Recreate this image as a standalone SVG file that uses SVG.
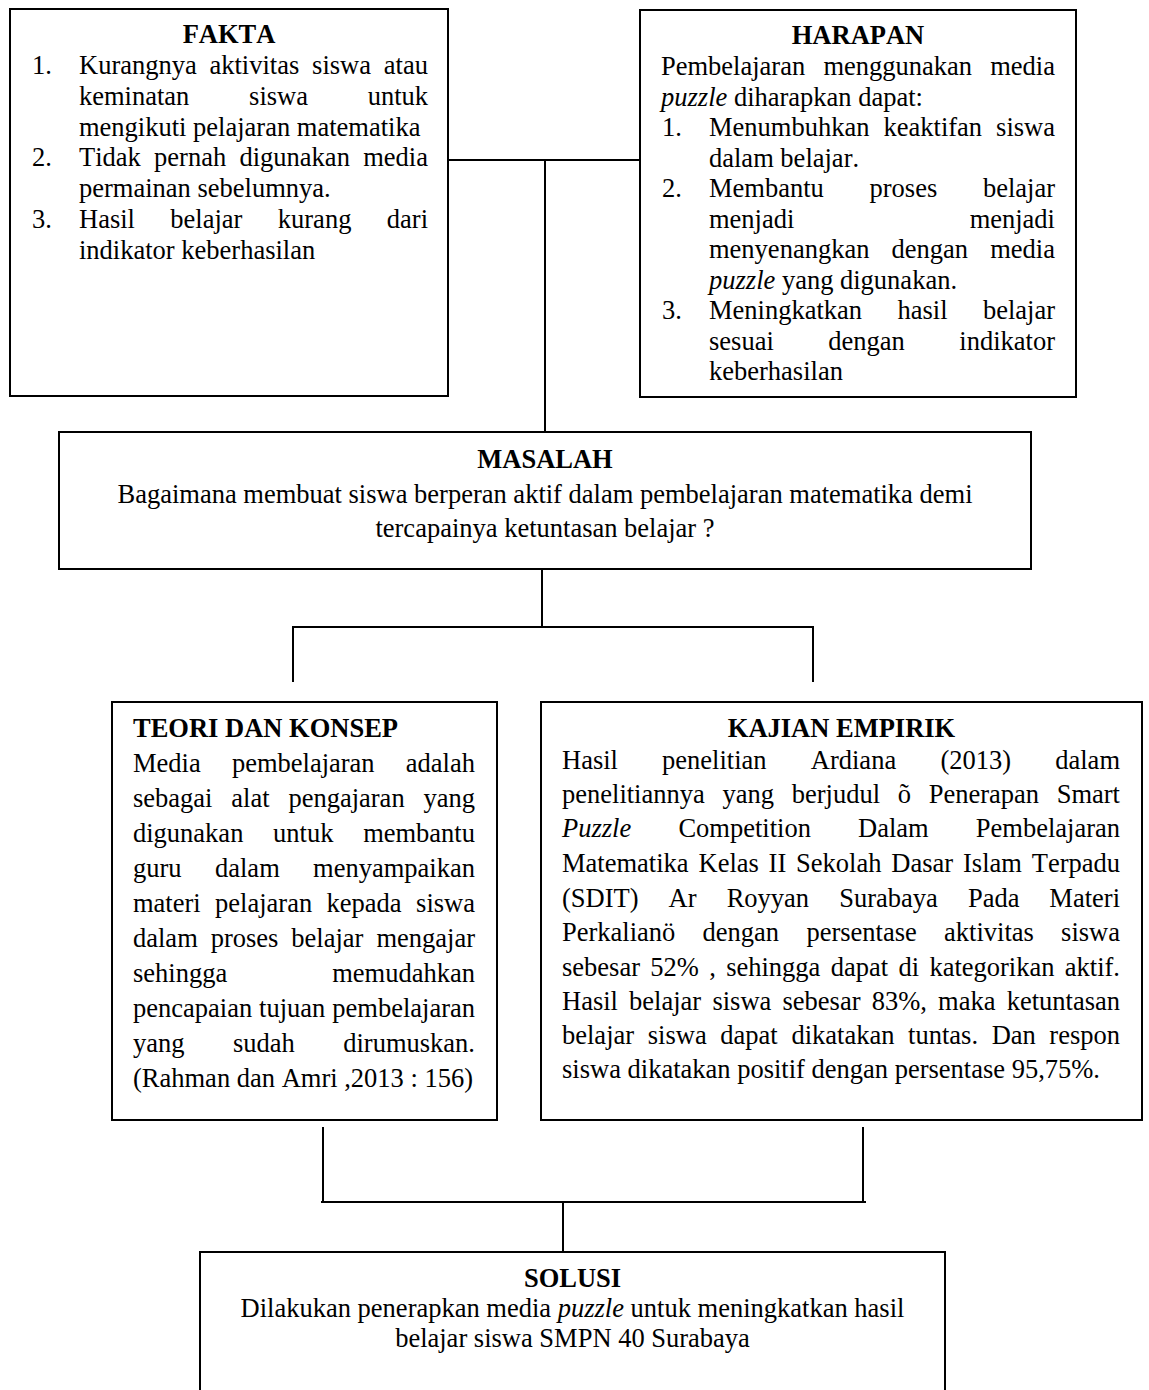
<svg xmlns="http://www.w3.org/2000/svg" width="1149" height="1390" viewBox="0 0 1149 1390">
<style>
.t{font-family:"Liberation Serif","Times New Roman",serif;font-size:26.5px;fill:#000;font-kerning:none}
.b{font-weight:bold}
.c{text-anchor:middle}
.r{text-anchor:end}
.i{font-style:italic}
.box{fill:#fff;stroke:#000;stroke-width:2}
.ln{stroke:#000;stroke-width:2;fill:none}
</style>
<rect width="1149" height="1390" fill="#fff"/>
<g id="connectors">
<line class="ln" x1="448" y1="160" x2="640" y2="160"/>
<line class="ln" x1="545" y1="160" x2="545" y2="432"/>
<line class="ln" x1="542" y1="569" x2="542" y2="627"/>
<line class="ln" x1="292" y1="627" x2="814" y2="627"/>
<line class="ln" x1="293" y1="627" x2="293" y2="682"/>
<line class="ln" x1="813" y1="627" x2="813" y2="682"/>
<line class="ln" x1="323" y1="1127" x2="323" y2="1202"/>
<line class="ln" x1="863" y1="1127" x2="863" y2="1202"/>
<line class="ln" x1="321" y1="1202" x2="866" y2="1202"/>
<line class="ln" x1="563" y1="1202" x2="563" y2="1252"/>
</g>
<g id="fakta">
<rect class="box" x="10" y="9" width="438" height="387"/>
<text class="t b c" x="229" y="43">FAKTA</text>
<text class="t" y="74"><tspan x="32">1.</tspan><tspan x="79">Kurangnya</tspan><tspan x="209.5">aktivitas</tspan><tspan x="312.1">siswa</tspan><tspan x="428" class="r">atau</tspan></text>
<text class="t" y="104.8"><tspan x="79">keminatan</tspan><tspan x="249.1">siswa</tspan><tspan x="428" class="r">untuk</tspan></text>
<text class="t" x="79" y="135.6">mengikuti pelajaran matematika</text>
<text class="t" y="166.4"><tspan x="32">2.</tspan><tspan x="79">Tidak</tspan><tspan x="154.1">pernah</tspan><tspan x="239.5">digunakan</tspan><tspan x="428" class="r">media</tspan></text>
<text class="t" x="79" y="197.2">permainan sebelumnya.</text>
<text class="t" y="228"><tspan x="32">3.</tspan><tspan x="79">Hasil</tspan><tspan x="170.3">belajar</tspan><tspan x="277.8">kurang</tspan><tspan x="428" class="r">dari</tspan></text>
<text class="t" x="79" y="258.8">indikator keberhasilan</text>
</g>
<g id="harapan">
<rect class="box" x="640" y="10" width="436" height="387"/>
<text class="t b c" x="858" y="44">HARAPAN</text>
<text class="t" y="75"><tspan x="661">Pembelajaran</tspan><tspan x="823.4">menggunakan</tspan><tspan x="1055" class="r">media</tspan></text>
<text class="t" x="661" y="105.5"><tspan class="i">puzzle</tspan> diharapkan dapat:</text>
<text class="t" y="136"><tspan x="662">1.</tspan><tspan x="709">Menumbuhkan</tspan><tspan x="883.5">keaktifan</tspan><tspan x="1055" class="r">siswa</tspan></text>
<text class="t" x="709" y="166.5">dalam belajar.</text>
<text class="t" y="197"><tspan x="662">2.</tspan><tspan x="709">Membantu</tspan><tspan x="869.5">proses</tspan><tspan x="1055" class="r">belajar</tspan></text>
<text class="t" y="227.5"><tspan x="709">menjadi</tspan><tspan x="1055" class="r">menjadi</tspan></text>
<text class="t" y="258"><tspan x="709">menyenangkan</tspan><tspan x="891.6">dengan</tspan><tspan x="1055" class="r">media</tspan></text>
<text class="t" x="709" y="288.5"><tspan class="i">puzzle</tspan> yang digunakan.</text>
<text class="t" y="319"><tspan x="662">3.</tspan><tspan x="709">Meningkatkan</tspan><tspan x="897.5">hasil</tspan><tspan x="1055" class="r">belajar</tspan></text>
<text class="t" y="349.5"><tspan x="709">sesuai</tspan><tspan x="828.3">dengan</tspan><tspan x="1055" class="r">indikator</tspan></text>
<text class="t" x="709" y="380">keberhasilan</text>
</g>
<g id="masalah">
<rect class="box" x="59" y="432" width="972" height="137"/>
<text class="t b c" x="545" y="468">MASALAH</text>
<text class="t c" x="545" y="503">Bagaimana membuat siswa berperan aktif dalam pembelajaran matematika demi</text>
<text class="t c" x="545" y="537">tercapainya ketuntasan belajar ?</text>
</g>
<g id="teori">
<rect class="box" x="112" y="702" width="385" height="418"/>
<text class="t b" x="133" y="737">TEORI DAN KONSEP</text>
<text class="t" y="772"><tspan x="133">Media</tspan><tspan x="231.9">pembelajaran</tspan><tspan x="475" class="r">adalah</tspan></text>
<text class="t" y="807"><tspan x="133">sebagai</tspan><tspan x="231.3">alat</tspan><tspan x="288.4">pengajaran</tspan><tspan x="475" class="r">yang</tspan></text>
<text class="t" y="842"><tspan x="133">digunakan</tspan><tspan x="273.1">untuk</tspan><tspan x="475" class="r">membantu</tspan></text>
<text class="t" y="877"><tspan x="133">guru</tspan><tspan x="215">dalam</tspan><tspan x="475" class="r">menyampaikan</tspan></text>
<text class="t" y="912"><tspan x="133">materi</tspan><tspan x="215.1">pelajaran</tspan><tspan x="326.6">kepada</tspan><tspan x="475" class="r">siswa</tspan></text>
<text class="t" y="947"><tspan x="133">dalam</tspan><tspan x="210.7">proses</tspan><tspan x="291.3">belajar</tspan><tspan x="475" class="r">mengajar</tspan></text>
<text class="t" y="982"><tspan x="133">sehingga</tspan><tspan x="475" class="r">memudahkan</tspan></text>
<text class="t" y="1017"><tspan x="133">pencapaian</tspan><tspan x="259.1">tujuan</tspan><tspan x="475" class="r">pembelajaran</tspan></text>
<text class="t" y="1052"><tspan x="133">yang</tspan><tspan x="233">sudah</tspan><tspan x="475" class="r">dirumuskan.</tspan></text>
<text class="t" x="133" y="1087">(Rahman dan Amri ,2013 : 156)</text>
</g>
<g id="kajian">
<rect class="box" x="541" y="702" width="601" height="418"/>
<text class="t b c" x="841.5" y="737">KAJIAN EMPIRIK</text>
<text class="t" y="769"><tspan x="562">Hasil</tspan><tspan x="662.1">penelitian</tspan><tspan x="810.8">Ardiana</tspan><tspan x="940.4">(2013)</tspan><tspan x="1120" class="r">dalam</tspan></text>
<text class="t" y="803"><tspan x="562">penelitiannya</tspan><tspan x="722.5">yang</tspan><tspan x="791.7">berjudul</tspan><tspan x="897.7">õ</tspan><tspan x="928.7">Penerapan</tspan><tspan x="1120" class="r">Smart</tspan></text>
<text class="t" y="837"><tspan x="562" class="i">Puzzle</tspan><tspan x="678.4">Competition</tspan><tspan x="858.1">Dalam</tspan><tspan x="1120" class="r">Pembelajaran</tspan></text>
<text class="t" y="872"><tspan x="562">Matematika</tspan><tspan x="698.5">Kelas</tspan><tspan x="768.6">II</tspan><tspan x="796.1">Sekolah</tspan><tspan x="891.3">Dasar</tspan><tspan x="963">Islam</tspan><tspan x="1120" class="r">Terpadu</tspan></text>
<text class="t" y="907"><tspan x="562">(SDIT)</tspan><tspan x="668.6">Ar</tspan><tspan x="726.7">Royyan</tspan><tspan x="839.2">Surabaya</tspan><tspan x="967.9">Pada</tspan><tspan x="1120" class="r">Materi</tspan></text>
<text class="t" y="941"><tspan x="562">Perkalianö</tspan><tspan x="702.6">dengan</tspan><tspan x="806.4">persentase</tspan><tspan x="944.1">aktivitas</tspan><tspan x="1120" class="r">siswa</tspan></text>
<text class="t" y="976"><tspan x="562">sebesar</tspan><tspan x="650.3">52%</tspan><tspan x="709.3">,</tspan><tspan x="726.2">sehingga</tspan><tspan x="830.7">dapat</tspan><tspan x="898.5">di</tspan><tspan x="929.4">kategorikan</tspan><tspan x="1120" class="r">aktif.</tspan></text>
<text class="t" y="1010"><tspan x="562">Hasil</tspan><tspan x="629.1">belajar</tspan><tspan x="712.4">siswa</tspan><tspan x="782.5">sebesar</tspan><tspan x="871.7">83%,</tspan><tspan x="938.1">maka</tspan><tspan x="1120" class="r">ketuntasan</tspan></text>
<text class="t" y="1044"><tspan x="562">belajar</tspan><tspan x="647.8">siswa</tspan><tspan x="720.3">dapat</tspan><tspan x="791.4">dikatakan</tspan><tspan x="908.1">tuntas.</tspan><tspan x="991.7">Dan</tspan><tspan x="1120" class="r">respon</tspan></text>
<text class="t" x="562" y="1078">siswa dikatakan positif dengan persentase 95,75%.</text>
</g>
<g id="solusi">
<path class="box" d="M200,1400 V1252 H945 V1400"/>
<text class="t b c" x="572.5" y="1287">SOLUSI</text>
<text class="t c" x="572.5" y="1317">Dilakukan penerapkan media <tspan class="i">puzzle</tspan> untuk meningkatkan hasil</text>
<text class="t c" x="572.5" y="1347">belajar siswa SMPN 40 Surabaya</text>
</g>
</svg>
